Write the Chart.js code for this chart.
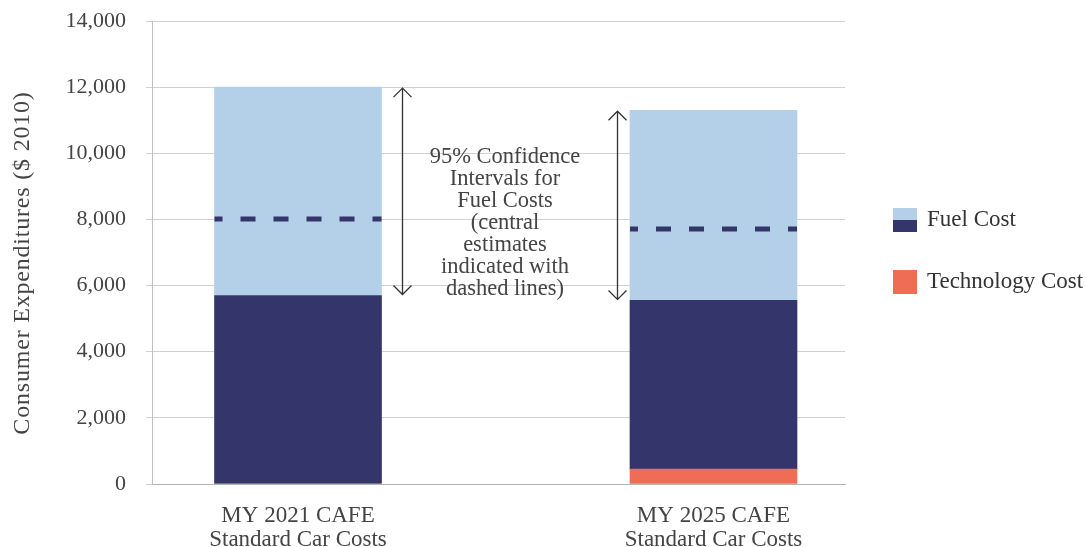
<!DOCTYPE html>
<html>
<head>
<meta charset="utf-8">
<script src="https://cdn.jsdelivr.net/npm/chart.js@4"></script>
<style>
  html, body { margin: 0; padding: 0; background: #ffffff; }
  #wrap { width: 1086px; height: 547px; position: relative; }
</style>
</head>
<body>
<div id="wrap"><canvas id="c" width="1086" height="547"></canvas></div>
<script>
// ---- data ----
const categories = [["MY 2021 CAFE", "Standard Car Costs"], ["MY 2025 CAFE", "Standard Car Costs"]];
const categoryPositions = [1, 2];
const technologyCost = [0, 450];
const fuelCostLow = [5700, 5550];      // top of the dark (lower-bound) fuel segment
const fuelCostHigh = [12000, 11300];   // top of the light (upper-bound) fuel segment
const fuelCostCentral = [8000, 7700];  // central estimate (dashed lines)
const yTicks = [0, 2000, 4000, 6000, 8000, 10000, 12000, 14000];
const yTitle = 'Consumer Expenditures ($ 2010)';
const annotationLines = ["95% Confidence", "Intervals for", "Fuel Costs", "(central", "estimates", "indicated with", "dashed lines)"];
const legendLabels = ["Fuel Cost", "Technology Cost"];

// ---- styles ----
const LIGHT = '#b4d0e8', DARK = '#34356b', ORANGE = '#ee6d54';
const FONT = "'Liberation Serif', 'Times New Roman', serif";
const TEXT = '#444444';
const BAR_W = 167;

const techData = categoryPositions.map((x, i) => ({x, y: [0, technologyCost[i]]}));
const darkData = categoryPositions.map((x, i) => ({x, y: [technologyCost[i], fuelCostLow[i]]}));
const lightData = categoryPositions.map((x, i) => ({x, y: [fuelCostLow[i], fuelCostHigh[i]]}));

const overlay = {
  id: 'overlay',
  afterDatasetsDraw(chart) {
    const ctx = chart.ctx;
    const xs = chart.scales.x, ys = chart.scales.y;
    ctx.save();
    // dashed central estimates
    ctx.strokeStyle = DARK;
    ctx.lineWidth = 5;
    ctx.setLineDash([15, 18]);
    ctx.lineDashOffset = 7;
    categoryPositions.forEach((p, i) => {
      const cx = xs.getPixelForValue(p);
      const y = Math.round(ys.getPixelForValue(fuelCostCentral[i]));
      ctx.beginPath();
      ctx.moveTo(cx - BAR_W / 2, y);
      ctx.lineTo(cx + BAR_W / 2, y);
      ctx.stroke();
    });
    ctx.setLineDash([]);
    // double-headed arrows for confidence intervals
    const arrowOffsets = [BAR_W / 2 + 20, -(BAR_W / 2 + 13)];
    ctx.strokeStyle = '#333333';
    ctx.lineWidth = 1.3;
    categoryPositions.forEach((p, i) => {
      const x = Math.round(xs.getPixelForValue(p) + arrowOffsets[i]) + 0.5;
      const yTop = ys.getPixelForValue(fuelCostHigh[i]) + 1;
      const yBot = ys.getPixelForValue(fuelCostLow[i]) - 1;
      ctx.beginPath();
      ctx.moveTo(x, yTop); ctx.lineTo(x, yBot);
      ctx.moveTo(x - 9, yTop + 9); ctx.lineTo(x, yTop); ctx.lineTo(x + 9, yTop + 9);
      ctx.moveTo(x - 9, yBot - 9); ctx.lineTo(x, yBot); ctx.lineTo(x + 9, yBot - 9);
      ctx.stroke();
    });
    // annotation text
    ctx.fillStyle = TEXT;
    ctx.font = "22.5px " + FONT;
    ctx.textAlign = 'center';
    ctx.textBaseline = 'middle';
    const ax = 505;
    annotationLines.forEach((t, k) => ctx.fillText(t, ax, 157 + k * 22));
    // legend
    const lx = 893;
    ctx.fillStyle = LIGHT; ctx.fillRect(lx, 208, 24, 12);
    ctx.fillStyle = DARK; ctx.fillRect(lx, 220, 24, 12);
    ctx.fillStyle = ORANGE; ctx.fillRect(lx, 270, 24, 24);
    ctx.fillStyle = '#333333';
    ctx.textAlign = 'left';
    ctx.font = "23px " + FONT;
    ctx.fillText(legendLabels[0], 927, 220);
    ctx.fillText(legendLabels[1], 927, 282);
    // y-axis title
    ctx.save();
    ctx.translate(23, 263);
    ctx.rotate(-Math.PI / 2);
    ctx.fillStyle = TEXT;
    ctx.textAlign = 'center';
    ctx.font = "24px " + FONT;
    ctx.letterSpacing = '0.8px';
    ctx.fillText(yTitle, 0, 0);
    ctx.restore();
    ctx.restore();
  }
};

new Chart(document.getElementById('c'), {
  type: 'bar',
  data: {
    datasets: [
      {label: 'Technology Cost', data: techData, backgroundColor: ORANGE, barThickness: BAR_W, borderWidth: 0},
      {label: 'Fuel Cost (low)', data: darkData, backgroundColor: DARK, barThickness: BAR_W, borderWidth: 0},
      {label: 'Fuel Cost (range)', data: lightData, backgroundColor: LIGHT, barThickness: BAR_W, borderWidth: 0}
    ]
  },
  options: {
    responsive: false,
    animation: false,
    events: [],
    grouped: false,
    layout: {padding: {top: 21, right: 241, bottom: 0, left: 0}},
    plugins: {legend: {display: false}, tooltip: {enabled: false}},
    scales: {
      x: {
        type: 'linear',
        offset: false,
        min: 0.6486, max: 2.3165,
        afterBuildTicks(axis) { axis.ticks = categoryPositions.map(v => ({value: v})); },
        afterFit(axis) { axis.height = 63; axis.paddingLeft = 0; axis.paddingRight = 0; },
        ticks: {
          callback: (v) => categories[categoryPositions.indexOf(v)] || '',
          color: TEXT,
          font: {family: FONT, size: 23, lineHeight: 1.05},
          padding: 12,
          maxRotation: 0, autoSkip: false
        },
        grid: {display: false, offset: false},
        border: {display: true, color: '#b5b5b5', width: 1}
      },
      y: {
        min: 0, max: 14000,
        afterBuildTicks(axis) { axis.ticks = yTicks.map(v => ({value: v})); },
        afterFit(axis) { axis.width = 152; axis.paddingTop = 0; axis.paddingBottom = 0; },
        ticks: {
          color: TEXT,
          font: {family: FONT, size: 22},
          padding: 20,
          callback: (v) => v.toLocaleString('en-US')
        },
        grid: {color: '#d0d0d0', lineWidth: 1, tickLength: 6, drawTicks: true},
        border: {display: true, color: '#c0c0c0', width: 1},
        title: {display: false}
      }
    }
  },
  plugins: [overlay]
});
</script>
</body>
</html>
